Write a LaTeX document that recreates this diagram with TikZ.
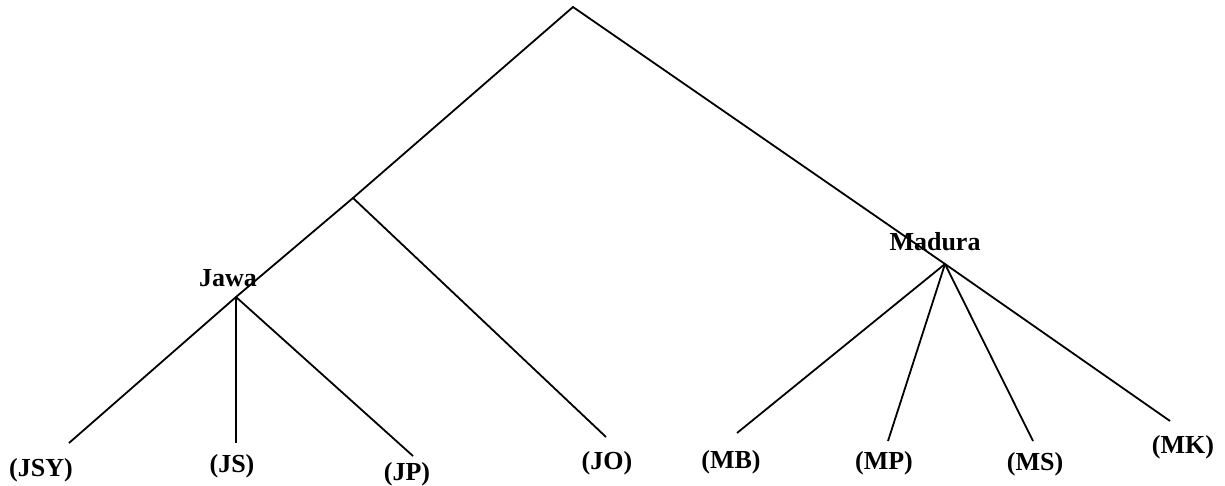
\documentclass[tikz,border=0pt]{standalone}
\usepackage{fontspec}
\setmainfont{Liberation Serif}
\begin{document}
\begin{tikzpicture}[x=1pt,y=-1pt,
  branch/.style={line width=1.8pt},
  lbl/.style={font=\fontsize{26}{29}\selectfont\bfseries, inner sep=0pt}]
\useasboundingbox (0,0) rectangle (1225,486);
% junction points
\coordinate (apex) at (573,7);
\coordinate (mid) at (353,198);
\coordinate (jawa) at (236,297);
\coordinate (madura) at (945,264);
% leaf ends
\coordinate (eJSY) at (69,443);
\coordinate (eJS) at (236,443);
\coordinate (eJP) at (413,456);
\coordinate (eJO) at (606,437);
\coordinate (eMB) at (737,433);
\coordinate (eMP) at (888,441);
\coordinate (eMS) at (1033,441);
\coordinate (eMK) at (1170,421);
% labels
\node[lbl, anchor=base] (tJawa) at (228,286) {Jawa};
\node[lbl, anchor=base] (tMadura) at (935,251) {Madura};
\node[lbl] (JSY) at (41,470) {(JSY)};
\node[lbl] (JS) at (232,466) {(JS)};
\node[lbl] (JP) at (407,474) {(JP)};
\node[lbl] (JO) at (607,463) {(JO)};
\node[lbl] (MB) at (731,462) {(MB)};
\node[lbl] (MP) at (884,463) {(MP)};
\node[lbl] (MS) at (1035,464) {(MS)};
\node[lbl] (MK) at (1183,447) {(MK)};
% branches
\draw[branch] (eJSY) -- (jawa) -- (mid) -- (apex) -- (madura) -- (eMK);
\draw[branch] (jawa) -- (eJS);
\draw[branch] (jawa) -- (eJP);
\draw[branch] (mid) -- (eJO);
\draw[branch] (madura) -- (eMB);
\draw[branch] (madura) -- (eMP);
\draw[branch] (madura) -- (eMS);
\end{tikzpicture}
\end{document}
